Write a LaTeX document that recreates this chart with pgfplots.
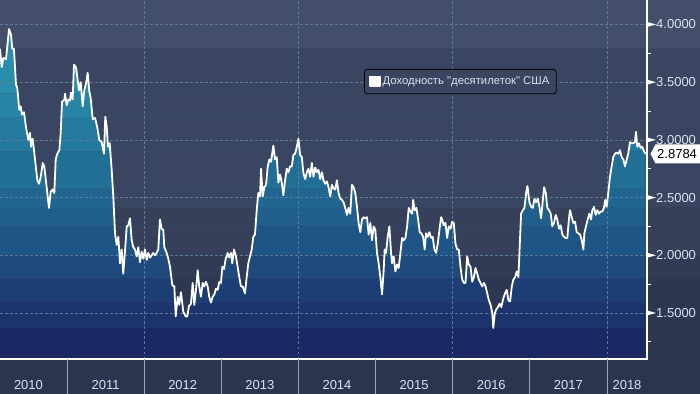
\documentclass[border=0pt]{standalone}
\usepackage{fontspec}
\setmainfont{Liberation Sans}[Ligatures=TeXOff]
\usepackage{pgfplots}
\usepackage{pgfplotstable}
\pgfplotsset{compat=1.18}
\usepgfplotslibrary{fillbetween}

\definecolor{bgA}{HTML}{434E6A}
\definecolor{bgB}{HTML}{3A4561}
\definecolor{bgC}{HTML}{36405B}
\definecolor{bgD}{HTML}{323B56}
\definecolor{bgE}{HTML}{2E3752}
\definecolor{bandbot}{HTML}{2C3550}
\definecolor{fa}{HTML}{1B2864}
\definecolor{fb}{HTML}{1C336C}
\definecolor{fc}{HTML}{1D3E75}
\definecolor{fd}{HTML}{1E4A7E}
\definecolor{fe}{HTML}{1F5586}
\definecolor{ff}{HTML}{205E8B}
\definecolor{fg}{HTML}{216690}
\definecolor{fh}{HTML}{226F96}
\definecolor{fi}{HTML}{247A9E}
\definecolor{fj}{HTML}{2784A5}
\definecolor{fk}{HTML}{2A8DAB}
\definecolor{gridc}{HTML}{5C7A9A}
\definecolor{labc}{HTML}{DCE3EE}
\definecolor{sepc}{HTML}{9AA4B6}

\pgfplotstableread{
x y
2010.131 3.79
2010.153 3.63
2010.174 3.71
2010.209 3.70
2010.248 3.96
2010.274 3.91
2010.290 3.79
2010.312 3.79
2010.338 3.48
2010.355 3.45
2010.381 3.26
2010.399 3.29
2010.416 3.22
2010.442 3.24
2010.468 3.11
2010.498 3.00
2010.520 3.06
2010.533 2.94
2010.555 3.01
2010.585 2.83
2010.615 2.65
2010.637 2.62
2010.659 2.68
2010.685 2.80
2010.705 2.77
2010.736 2.59
2010.766 2.41
2010.788 2.55
2010.814 2.57
2010.835 2.54
2010.853 2.83
2010.874 2.88
2010.900 2.91
2010.918 3.06
2010.935 3.33
2010.965 3.35
2010.974 3.40
2010.996 3.30
2011.016 3.35
2011.038 3.34
2011.051 3.41
2011.073 3.35
2011.090 3.65
2011.116 3.63
2011.138 3.52
2011.155 3.43
2011.177 3.50
2011.203 3.29
2011.224 3.43
2011.246 3.49
2011.268 3.58
2011.289 3.42
2011.307 3.36
2011.333 3.18
2011.363 3.19
2011.392 3.11
2011.418 3.00
2011.449 2.98
2011.479 2.88
2011.496 3.20
2011.514 3.12
2011.531 2.94
2011.553 2.97
2011.579 2.74
2011.600 2.51
2011.622 2.19
2011.644 2.09
2011.665 2.16
2011.687 1.93
2011.709 2.05
2011.729 1.84
2011.751 2.03
2011.774 2.25
2011.794 2.26
2011.816 2.32
2011.838 2.13
2011.859 2.07
2011.881 2.05
2011.903 1.99
2011.924 2.07
2011.946 1.94
2011.968 2.03
2011.989 1.97
2012.011 2.05
2012.033 1.96
2012.054 2.02
2012.076 1.98
2012.098 2.00
2012.118 2.02
2012.140 2.00
2012.162 2.02
2012.183 2.05
2012.205 2.31
2012.227 2.23
2012.248 2.22
2012.261 2.07
2012.292 2.02
2012.313 1.97
2012.335 1.90
2012.365 1.74
2012.391 1.73
2012.409 1.47
2012.435 1.64
2012.455 1.57
2012.477 1.68
2012.507 1.51
2012.538 1.47
2012.559 1.47
2012.581 1.56
2012.607 1.58
2012.629 1.76
2012.650 1.57
2012.672 1.70
2012.694 1.87
2012.714 1.73
2012.736 1.64
2012.758 1.76
2012.779 1.73
2012.801 1.77
2012.823 1.73
2012.844 1.64
2012.866 1.59
2012.888 1.64
2012.909 1.66
2012.931 1.71
2012.953 1.70
2012.974 1.77
2012.996 1.76
2013.013 1.90
2013.035 1.88
2013.057 1.97
2013.083 2.02
2013.100 1.98
2013.126 2.02
2013.142 1.93
2013.164 2.05
2013.190 1.99
2013.212 1.90
2013.233 1.81
2013.255 1.73
2013.277 1.73
2013.307 1.67
2013.329 1.81
2013.350 1.93
2013.372 1.99
2013.394 2.05
2013.415 2.16
2013.437 2.18
2013.459 2.39
2013.480 2.54
2013.502 2.51
2013.515 2.75
2013.537 2.51
2013.558 2.59
2013.580 2.61
2013.602 2.77
2013.623 2.83
2013.645 2.81
2013.675 2.95
2013.697 2.83
2013.719 2.85
2013.740 2.63
2013.762 2.70
2013.784 2.63
2013.805 2.52
2013.827 2.65
2013.849 2.75
2013.870 2.72
2013.892 2.77
2013.914 2.77
2013.935 2.87
2013.957 2.88
2013.979 2.94
2014.000 3.01
2014.022 2.87
2014.044 2.85
2014.065 2.71
2014.087 2.66
2014.109 2.72
2014.130 2.75
2014.152 2.68
2014.174 2.80
2014.195 2.68
2014.217 2.76
2014.239 2.72
2014.260 2.74
2014.282 2.66
2014.304 2.72
2014.325 2.65
2014.347 2.62
2014.369 2.64
2014.390 2.59
2014.412 2.51
2014.434 2.61
2014.455 2.58
2014.477 2.57
2014.499 2.65
2014.520 2.54
2014.542 2.49
2014.564 2.48
2014.585 2.46
2014.607 2.41
2014.629 2.35
2014.650 2.41
2014.672 2.36
2014.694 2.61
2014.715 2.59
2014.737 2.54
2014.759 2.42
2014.780 2.28
2014.802 2.20
2014.824 2.31
2014.845 2.33
2014.867 2.32
2014.889 2.33
2014.910 2.18
2014.932 2.28
2014.954 2.13
2014.975 2.25
2014.997 2.22
2015.019 2.02
2015.040 1.93
2015.062 1.81
2015.084 1.66
2015.105 1.87
2015.118 2.05
2015.136 2.02
2015.157 2.16
2015.179 2.25
2015.201 2.02
2015.214 1.93
2015.235 1.99
2015.257 1.86
2015.279 1.92
2015.300 1.89
2015.322 2.02
2015.344 2.15
2015.365 2.13
2015.387 2.15
2015.409 2.25
2015.430 2.41
2015.452 2.38
2015.474 2.36
2015.487 2.48
2015.508 2.39
2015.530 2.41
2015.552 2.31
2015.572 2.20
2015.594 2.19
2015.616 2.16
2015.637 2.05
2015.655 2.19
2015.676 2.16
2015.698 2.20
2015.720 2.15
2015.741 2.16
2015.763 2.05
2015.785 2.02
2015.806 2.10
2015.828 2.22
2015.850 2.33
2015.863 2.31
2015.884 2.26
2015.906 2.28
2015.928 2.15
2015.949 2.25
2015.971 2.23
2015.993 2.29
2016.014 2.28
2016.036 2.10
2016.058 2.05
2016.079 2.05
2016.101 1.90
2016.123 1.79
2016.144 1.76
2016.166 1.76
2016.188 1.99
2016.209 1.92
2016.231 1.90
2016.253 1.77
2016.274 1.81
2016.296 1.89
2016.318 1.84
2016.339 1.79
2016.361 1.76
2016.383 1.73
2016.404 1.76
2016.426 1.73
2016.448 1.67
2016.469 1.61
2016.491 1.57
2016.513 1.50
2016.526 1.37
2016.547 1.50
2016.565 1.53
2016.586 1.55
2016.608 1.58
2016.630 1.55
2016.657 1.63
2016.679 1.67
2016.701 1.70
2016.722 1.61
2016.744 1.60
2016.766 1.73
2016.787 1.79
2016.809 1.81
2016.831 1.86
2016.852 1.81
2016.865 2.02
2016.887 2.36
2016.909 2.39
2016.930 2.41
2016.952 2.54
2016.969 2.60
2016.995 2.46
2017.017 2.42
2017.039 2.41
2017.060 2.49
2017.082 2.46
2017.104 2.49
2017.124 2.42
2017.146 2.32
2017.163 2.44
2017.185 2.59
2017.207 2.54
2017.227 2.41
2017.249 2.39
2017.271 2.36
2017.291 2.25
2017.313 2.28
2017.335 2.35
2017.356 2.31
2017.378 2.23
2017.400 2.26
2017.421 2.18
2017.443 2.16
2017.465 2.15
2017.486 2.15
2017.508 2.32
2017.521 2.39
2017.543 2.33
2017.564 2.28
2017.586 2.29
2017.608 2.20
2017.629 2.19
2017.651 2.18
2017.673 2.13
2017.694 2.05
2017.707 2.19
2017.728 2.25
2017.750 2.31
2017.771 2.36
2017.793 2.31
2017.810 2.39
2017.832 2.42
2017.854 2.35
2017.875 2.39
2017.897 2.36
2017.919 2.38
2017.940 2.38
2017.961 2.41
2017.978 2.48
2017.996 2.42
2018.017 2.54
2018.039 2.68
2018.061 2.77
2018.082 2.85
2018.104 2.88
2018.126 2.89
2018.147 2.88
2018.169 2.91
2018.191 2.85
2018.212 2.83
2018.234 2.77
2018.256 2.83
2018.276 2.88
2018.298 2.98
2018.320 2.97
2018.341 2.97
2018.363 2.98
2018.376 3.07
2018.393 2.94
2018.415 2.97
2018.437 2.93
2018.458 2.94
2018.480 2.90
2018.502 2.8784
}\yields

% one colour band of the area under the curve, between levels #1 and #2
\newcommand{\band}[3]{%
  \addplot[draw=none, forget plot, name path=C#3] table[x=x, y expr={max(min(\thisrow{y},#2),#1)}] {\yields};
  \addplot[draw=none, forget plot, name path=L#3] coordinates {(2010.131,#1) (2018.502,#1)};
  \addplot[fill=#3, draw=none, forget plot] fill between[of=C#3 and L#3];
}

\begin{document}
\begin{tikzpicture}
\begin{axis}[
  set layers,
  at={(0pt,34pt)}, anchor=south west,
  scale only axis, width=647pt, height=359pt,
  xmin=2010.131, xmax=2018.519, ymin=1.101, ymax=4.212,
  clip=false,
  axis x line*=bottom, axis y line*=right,
  axis line style={draw=none},
  xtick={2010.5,2011.5,2012.5,2013.5,2014.5,2015.5,2016.5,2017.5,2018.26},
  xticklabels={2010,2011,2012,2013,2014,2015,2016,2017,2018},
  ytick={1.5,2,2.5,3,3.5,4},
  major tick length=0pt, minor tick length=0pt,
  tick style={draw=none},
  x tick label style={font=\fontsize{13}{15}\selectfont, text=labc, anchor=north, yshift=-21pt, inner sep=0pt},
  y tick label style={font=\fontsize{13}{15}\selectfont, text=labc, anchor=west, xshift=9pt, inner sep=0pt,
    /pgf/number format/.cd, fixed, fixed zerofill, precision=4, assume math mode=true},
  legend style={at={(0.5626,0.8078)}, anchor=north west, draw=black, fill=bgB,
    rounded corners=3pt, font=\fontsize{11.3}{13}\selectfont, text=labc,
    inner xsep=5pt, inner ysep=5.5pt, line width=0.8pt},
  legend cell align=left,
]
% background bands (plot area, right label area, bottom band)
\begin{pgfonlayer}{axis background}
\fill[bgA] (axis cs:2010.131,3.80) rectangle ([xshift=60pt]axis cs:2018.519,4.212);
\fill[bgB] (axis cs:2010.131,2.42) rectangle ([xshift=60pt]axis cs:2018.519,3.80);
\fill[bgC] (axis cs:2010.131,2.00) rectangle ([xshift=60pt]axis cs:2018.519,2.42);
\fill[bgD] (axis cs:2010.131,1.80) rectangle ([xshift=60pt]axis cs:2018.519,2.00);
\fill[bgE] (axis cs:2010.131,1.101) rectangle ([xshift=60pt]axis cs:2018.519,1.80);
\fill[bandbot] (axis cs:2010.131,1.101) rectangle ([xshift=60pt,yshift=-40pt]axis cs:2018.519,1.101);
\end{pgfonlayer}
\band{1.101}{1.37}{fa}
\band{1.37}{1.59}{fb}
\band{1.59}{1.80}{fc}
\band{1.80}{2.00}{fd}
\band{2.00}{2.25}{fe}
\band{2.25}{2.42}{ff}
\band{2.42}{2.58}{fg}
\band{2.58}{2.90}{fh}
\band{2.90}{3.20}{fi}
\band{3.20}{3.40}{fj}
\band{3.40}{4.212}{fk}
% dashed grid
\draw[gridc, line width=0.7pt, dash pattern=on 2.5pt off 2.5pt] (axis cs:2010.131,1.5) -- (axis cs:2018.519,1.5);
\draw[gridc, line width=0.7pt, dash pattern=on 2.5pt off 2.5pt] (axis cs:2010.131,2.0) -- (axis cs:2018.519,2.0);
\draw[gridc, line width=0.7pt, dash pattern=on 2.5pt off 2.5pt] (axis cs:2010.131,2.5) -- (axis cs:2018.519,2.5);
\draw[gridc, line width=0.7pt, dash pattern=on 2.5pt off 2.5pt] (axis cs:2010.131,3.0) -- (axis cs:2018.519,3.0);
\draw[gridc, line width=0.7pt, dash pattern=on 2.5pt off 2.5pt] (axis cs:2010.131,3.5) -- (axis cs:2018.519,3.5);
\draw[gridc, line width=0.7pt, dash pattern=on 2.5pt off 2.5pt] (axis cs:2010.131,4.0) -- (axis cs:2018.519,4.0);
\draw[gridc, line width=0.7pt, dash pattern=on 2.5pt off 2.5pt] (axis cs:2012,1.101) -- (axis cs:2012,4.212);
\draw[gridc, line width=0.7pt, dash pattern=on 2.5pt off 2.5pt] (axis cs:2014,1.101) -- (axis cs:2014,4.212);
\draw[gridc, line width=0.7pt, dash pattern=on 2.5pt off 2.5pt] (axis cs:2016,1.101) -- (axis cs:2016,4.212);
\draw[gridc, line width=0.7pt, dash pattern=on 2.5pt off 2.5pt] (axis cs:2018,1.101) -- (axis cs:2018,4.212);
% the series
\addplot[white, line width=1.8pt, line join=round,
  legend image code/.code={\fill[white, sharp corners] (0pt,-4.5pt) rectangle (9.5pt,5pt);}] table[x=x,y=y] {\yields};
\addlegendentry{Доходность "десятилеток" США}
% axis lines
\draw[white, line width=1.2pt] (axis cs:2010.131,1.101) -- (axis cs:2018.519,1.101) -- (axis cs:2018.519,4.212);
% year separators in the bottom band
\draw[sepc, line width=0.8pt] (axis cs:2011,1.101) -- ++(0pt,-40pt);
\draw[sepc, line width=0.8pt] (axis cs:2012,1.101) -- ++(0pt,-40pt);
\draw[sepc, line width=0.8pt] (axis cs:2013,1.101) -- ++(0pt,-40pt);
\draw[sepc, line width=0.8pt] (axis cs:2014,1.101) -- ++(0pt,-40pt);
\draw[sepc, line width=0.8pt] (axis cs:2015,1.101) -- ++(0pt,-40pt);
\draw[sepc, line width=0.8pt] (axis cs:2016,1.101) -- ++(0pt,-40pt);
\draw[sepc, line width=0.8pt] (axis cs:2017,1.101) -- ++(0pt,-40pt);
\draw[sepc, line width=0.8pt] (axis cs:2018,1.101) -- ++(0pt,-40pt);
% right axis tick marks
\fill[white] (axis cs:2018.519,4.0) ++(0pt,2.5pt) -- ++(9pt,-2.5pt) -- ++(-9pt,-2.5pt) -- cycle;
\fill[white] (axis cs:2018.519,3.5) ++(0pt,2.5pt) -- ++(9pt,-2.5pt) -- ++(-9pt,-2.5pt) -- cycle;
\fill[white] (axis cs:2018.519,3.0) ++(0pt,2.5pt) -- ++(9pt,-2.5pt) -- ++(-9pt,-2.5pt) -- cycle;
\fill[white] (axis cs:2018.519,2.5) ++(0pt,2.5pt) -- ++(9pt,-2.5pt) -- ++(-9pt,-2.5pt) -- cycle;
\fill[white] (axis cs:2018.519,2.0) ++(0pt,2.5pt) -- ++(9pt,-2.5pt) -- ++(-9pt,-2.5pt) -- cycle;
\fill[white] (axis cs:2018.519,1.5) ++(0pt,2.5pt) -- ++(9pt,-2.5pt) -- ++(-9pt,-2.5pt) -- cycle;
\draw[white, line width=0.8pt] (axis cs:2018.519,3.75) -- ++(4pt,0pt);
\draw[white, line width=0.8pt] (axis cs:2018.519,3.25) -- ++(4pt,0pt);
\draw[white, line width=0.8pt] (axis cs:2018.519,2.75) -- ++(4pt,0pt);
\draw[white, line width=0.8pt] (axis cs:2018.519,2.25) -- ++(4pt,0pt);
\draw[white, line width=0.8pt] (axis cs:2018.519,1.75) -- ++(4pt,0pt);
\draw[white, line width=0.8pt] (axis cs:2018.519,1.25) -- ++(4pt,0pt);
% last value marker
\fill[white] (axis cs:2018.519,2.8784) ++(3.5pt,0pt) -- ++(5pt,9.5pt) -- ++(60pt,0pt) -- ++(0pt,-19pt) -- ++(-60pt,0pt) -- cycle;
\node[anchor=west, text=black, inner sep=0pt, font=\fontsize{13}{15}\selectfont, xshift=10pt] at (axis cs:2018.519,2.8784) {2.8784};
\end{axis}
\pgfresetboundingbox
\path[use as bounding box] (0pt,0pt) rectangle (700pt,393pt);
\end{tikzpicture}
\end{document}
